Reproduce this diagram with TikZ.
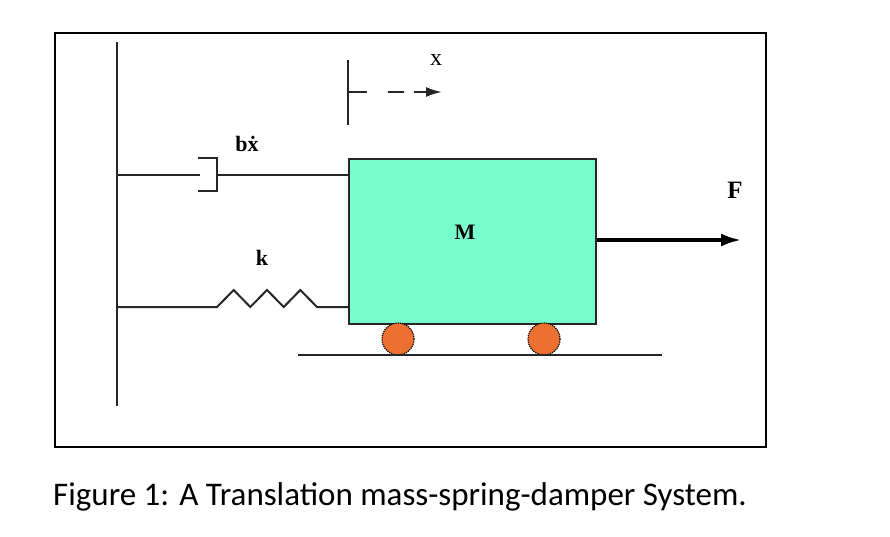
\documentclass[tikz,border=0pt]{standalone}
\usepackage{fontspec}
\setmainfont{Liberation Serif}
\newfontfamily\capfont{Carlito}
\usetikzlibrary{arrows.meta}
\definecolor{mass}{RGB}{120,252,206}
\definecolor{wheel}{RGB}{236,112,48}
\begin{document}
\begin{tikzpicture}[x=1pt,y=-1pt,
  ln/.style={line width=2pt,draw=black!85},
  lbl/.style={font=\bfseries\fontsize{22}{22}\selectfont,inner sep=0pt},
  wh/.style={circle,fill=wheel,draw=black,densely dotted,line width=1.2pt,minimum size=32pt,inner sep=0pt}]
\useasboundingbox (0,0) rectangle (890,536);
\draw[line width=1.6pt] (55,33) rectangle (766,447);
% wall
\coordinate (wt) at (117,42); \coordinate (wb) at (117,406);
\draw[ln] (wt) -- (wb);
% mass
\node[ln,fill=mass,minimum width=247pt,minimum height=165pt,inner sep=0pt,anchor=north west] (M) at (348,158) {};
\node[lbl] (ml) at (465,232) {M};
% damper
\coordinate (d0) at (117,175); \coordinate (d1) at (200,175);
\draw[ln] (d0) -- (d1);
\draw[ln] (198,158) -- (217,158) -- (217,191) -- (198,191);
\coordinate (d2) at (217,175);
\draw[ln] (d2) -- (M.west |- d2);
\node[lbl] (bx) at (247,144) {b\.{x}};
% spring
\coordinate (s0) at (117,307); \coordinate (s1) at (217,307); \coordinate (s2) at (317,307);
\draw[ln] (s0) -- (s1) -- (233.7,290) -- (250.3,307) -- (267,290) -- (283.7,307) -- (300.3,290) -- (s2) -- (M.west |- s2);
\node[lbl] (k) at (262,258) {k};
% displacement marker
\coordinate (x0) at (348,60); \coordinate (x1) at (348,125);
\draw[ln] (x0) -- (x1);
\draw[ln] (348,92) -- (367,92);
\draw[ln] (388,92) -- (404,92);
\coordinate (xa) at (414,92); \coordinate (xb) at (442,92);
\draw[ln,-{Latex[length=16pt,width=10pt]}] (xa) -- (xb);
\node[lbl,font=\fontsize{24}{24}\selectfont] (x) at (436,60) {x};
% force
\coordinate (fe) at (741,240);
\draw[line width=3.2pt,-{Latex[length=20pt,width=13pt]}] (M.east |- fe) -- (fe);
\node[lbl,font=\bfseries\fontsize{25}{25}\selectfont] (F) at (735,190) {F};
% wheels and ground
\node[wh] (w1) at (398,339) {};
\node[wh] (w2) at (544,339) {};
\coordinate (g0) at (298,355); \coordinate (g1) at (662,355);
\draw[ln] (g0) -- (g1);
% caption
\node[font=\capfont\fontsize{33}{33}\selectfont,anchor=west,inner sep=0pt] (cap) at (53,497) {Figure 1: A Translation mass-spring-damper System.};
\end{tikzpicture}
\end{document}
